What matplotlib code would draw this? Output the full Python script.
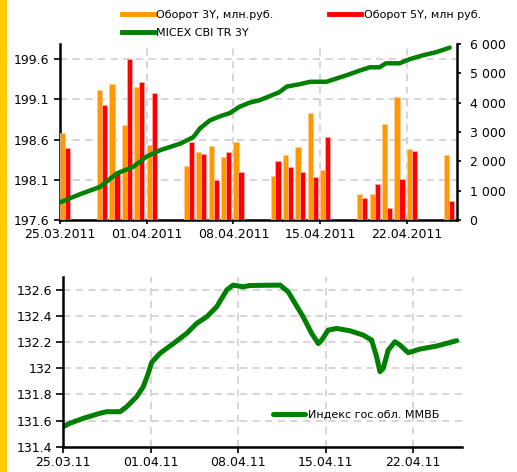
import matplotlib
matplotlib.use("Agg")
import matplotlib.pyplot as plt
import numpy as np
import pandas as pd
from matplotlib.lines import Line2D
from matplotlib.patches import Rectangle
from matplotlib.ticker import FuncFormatter, FixedLocator

# ---------------- data ----------------
start = pd.Timestamp("2011-03-25")
bar_dates = ["25.03.2011", "28.03.2011", "29.03.2011", "30.03.2011", "31.03.2011", "01.04.2011",
             "04.04.2011", "05.04.2011", "06.04.2011", "07.04.2011", "08.04.2011",
             "11.04.2011", "12.04.2011", "13.04.2011", "14.04.2011", "15.04.2011",
             "18.04.2011", "19.04.2011", "20.04.2011", "21.04.2011", "22.04.2011",
             "25.04.2011"]
turnover_3y = [2955, 4432, 4625, 3239, 4545, 2545,
               1852, 2318, 2511, 2148, 2659,
               1500, 2216, 2477, 3659, 1693,
               875, 875, 3284, 4205, 2432,
               2216]
turnover_5y = [2444, 3920, 1625, 5477, 4693, 4330,
               2648, 2250, 1364, 2318, 1625,
               2023, 1807, 1648, 1477, 2841,
               761, 1216, 398, 1398, 2352,
               648]

# MICEX CBI TR 3Y (days since 25.03.2011, value)
cbi_days = [0, 1.6, 3.2, 4.6, 5.9, 7.0, 8.1, 9.7, 10.75, 11.3, 12.1, 12.9, 13.7, 14.5, 15.3,
            16.1, 16.9, 17.7, 18.3, 19.35, 20.2, 21.5, 23.1, 24.2, 25.0, 25.8, 26.3, 27.4,
            28.2, 29.3, 30.4, 31.45]
cbi_vals = [197.82, 197.92, 198.01, 198.18, 198.26, 198.39, 198.47, 198.55, 198.63, 198.74,
            198.84, 198.89, 198.93, 199.01, 199.06, 199.09, 199.14, 199.19, 199.26, 199.29,
            199.32, 199.32, 199.40, 199.46, 199.50, 199.50, 199.55, 199.55, 199.60, 199.65,
            199.69, 199.745]

# Индекс гос.обл. ММВБ (days since 25.03.2011, value)
mmvb_days = [0, 0.56, 1.62, 2.96, 3.49, 4.56, 5.09, 5.89, 6.42, 6.82, 7.09, 7.75, 8.82, 9.89,
             10.69, 11.49, 12.29, 13.09, 13.6, 14.4, 14.95, 17.35, 18.0, 19.2, 19.88, 20.41,
             20.68, 21.2, 21.88, 22.94, 24.0, 24.67, 25.07, 25.34, 25.6, 26.0, 26.54, 26.94,
             27.6, 28.54, 29.87, 31.47]
mmvb_vals = [131.553, 131.58, 131.617, 131.656, 131.668, 131.668, 131.706, 131.783, 131.86,
             131.962, 132.046, 132.115, 132.19, 132.268, 132.345, 132.395, 132.472, 132.6,
             132.638, 132.625, 132.635, 132.638, 132.587, 132.395, 132.268, 132.19, 132.217,
             132.293, 132.306, 132.288, 132.255, 132.217, 132.09, 131.975, 132.0, 132.14,
             132.204, 132.179, 132.12, 132.148, 132.171, 132.212]

top_ticks = ["25.03.2011", "01.04.2011", "08.04.2011", "15.04.2011", "22.04.2011"]
bottom_ticks = ["25.03.11", "01.04.11", "08.04.11", "15.04.11", "22.04.11"]
left_ticks_top = [197.6, 198.1, 198.6, 199.1, 199.6]
right_ticks_top = [0, 1000, 2000, 3000, 4000, 5000, 6000]
left_ticks_bottom = [131.4, 131.6, 131.8, 132.0, 132.2, 132.4, 132.6]

# ---------------- style ----------------
ORANGE = "#FF9900"
RED = "#FF0000"
GREEN = "#008000"
GRID = "#D3D3D3"
plt.rcParams['font.family'] = ['DejaVu Sans']
plt.rcParams['font.size'] = 9

W, H = 517, 472
fig = plt.figure(figsize=(W / 100, H / 100), dpi=100)
fig.patches.append(Rectangle((0, 0), 7 / W, 1, transform=fig.transFigure,
                             facecolor="#FFCC00", edgecolor="none", zorder=0))

def days(s):
    return [(pd.Timestamp(pd.to_datetime(d, format="%d.%m.%Y")) - start).days for d in s]

bar_x = np.array(days(bar_dates), dtype=float)
top_tick_x = days(top_ticks)
bottom_tick_x = days([d[:6] + "20" + d[6:] for d in bottom_ticks])

# ---------------- top chart ----------------
rect_top = [60 / W, 1 - 220 / H, (457 - 60) / W, (220 - 44) / H]
axg = fig.add_axes(rect_top)
axg.set_xlim(0, 32.04)
axg.set_ylim(197.6, 199.79)
axg.set_yticks(left_ticks_top)
axg.yaxis.set_major_formatter(FuncFormatter(lambda v, p: f"{v:.1f}"))
axg.set_xticks(top_tick_x)
axg.set_xticklabels(top_ticks)
axg.grid(True, color=GRID, linestyle=(0, (4, 3)), linewidth=1.3)
axg.set_axisbelow(True)
for s in ["top", "right"]:
    axg.spines[s].set_visible(False)
axg.spines["left"].set_linewidth(1.8)
axg.spines["bottom"].set_linewidth(1.8)
axg.tick_params(axis="y", direction="out", length=4, width=1.2, pad=4, labelsize=9)
axg.tick_params(axis="x", direction="out", length=3, width=1.2, pad=3, labelsize=9)

axb = axg.twinx()
axb.patch.set_visible(False)
bw = 0.42
axb.bar(bar_x + 0.2, turnover_3y, width=bw, color=ORANGE, edgecolor="#FFC8A0", linewidth=0.5)
axb.bar(bar_x + 0.6, turnover_5y, width=bw, color=RED, edgecolor="#FFB0B0", linewidth=0.5)
axb.set_ylim(0, 6000)
axb.set_xlim(0, 32.04)
axb.set_yticks(right_ticks_top)
axb.yaxis.set_major_formatter(FuncFormatter(lambda v, p: f"{int(v):,}".replace(",", " ")))
for s in ["top", "left", "bottom"]:
    axb.spines[s].set_visible(False)
axb.spines["right"].set_linewidth(1.8)
axb.tick_params(axis="y", direction="out", length=3, width=1.2, pad=6, labelsize=9)

axl = axg.twinx()
axl.patch.set_visible(False)
axl.plot(cbi_days, cbi_vals, color=GREEN, linewidth=3.2, solid_capstyle="round")
axl.set_ylim(197.6, 199.79)
axl.set_xlim(0, 32.04)
axl.set_yticks([])
for s in axl.spines.values():
    s.set_visible(False)

handles = [Line2D([], [], color=ORANGE, lw=3.5), Line2D([], [], color=GREEN, lw=3.5),
           Line2D([], [], color=RED, lw=3.5)]
labels = ["Оборот 3Y, млн.руб.", "MICEX CBI TR 3Y", "Оборот 5Y, млн руб."]
fig.legend(handles, labels, ncol=2, loc="upper left", bbox_to_anchor=(122 / W, 1 - 10 / H),
           frameon=False, fontsize=8, handlelength=2.85, handletextpad=0.25,
           columnspacing=5.0, labelspacing=0.75, borderpad=0, borderaxespad=0)

# ---------------- bottom chart ----------------
rect_bot = [63 / W, 1 - 446.7 / H, (462 - 63) / W, (446.7 - 277) / H]
ax2 = fig.add_axes(rect_bot)
ax2.plot(mmvb_days, mmvb_vals, color=GREEN, linewidth=3.6, solid_capstyle="round",
         label="Индекс гос.обл. ММВБ")
ax2.set_xlim(0, 31.9)
ax2.set_ylim(131.4, 132.7)
ax2.yaxis.set_major_locator(FixedLocator(left_ticks_bottom))
ax2.yaxis.set_major_formatter(FuncFormatter(lambda v, p: f"{v:g}"))
ax2.set_xticks(bottom_tick_x)
ax2.set_xticklabels(bottom_ticks)
ax2.grid(True, color=GRID, linestyle=(0, (4, 3)), linewidth=1.3)
ax2.set_axisbelow(True)
for s in ["top", "right"]:
    ax2.spines[s].set_visible(False)
ax2.spines["left"].set_linewidth(1.8)
ax2.spines["bottom"].set_linewidth(1.8)
ax2.tick_params(axis="y", direction="out", length=5, width=1.2, pad=3, labelsize=9)
ax2.tick_params(axis="x", direction="out", length=4, width=1.2, pad=3, labelsize=9)
ax2.legend(loc="center left", bbox_to_anchor=(0.526, 0.187), frameon=False, fontsize=8,
           handlelength=2.9, handletextpad=0.25, borderpad=0, borderaxespad=0)

fig.savefig("out.png", dpi=100, facecolor="white")
